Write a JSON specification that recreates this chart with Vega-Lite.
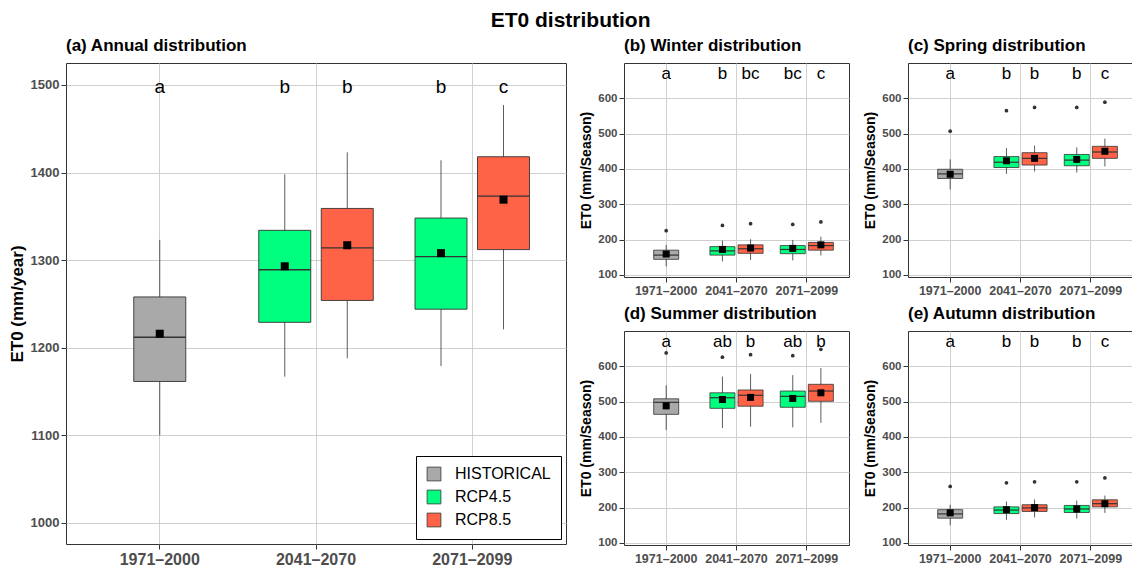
{
  "$schema": "https://vega.github.io/schema/vega-lite/v6.json",
  "background": "white",
  "padding": {"left": 7, "top": 9, "right": 0, "bottom": 0},
  "title": {"text": "ET0 distribution", "anchor": "middle", "fontSize": 21, "fontWeight": "bold", "font": "Liberation Sans", "color": "black", "offset": 6},
  "datasets": {
    "stats": [
      {"panel": "Annual", "period": "1971–2000", "scenario": "HISTORICAL", "lower": 1100, "q1": 1161.5, "median": 1212, "q3": 1258, "upper": 1323, "mean": 1216, "outlier": null, "letter": "a"},
      {"panel": "Annual", "period": "2041–2070", "scenario": "RCP4.5", "lower": 1167, "q1": 1229, "median": 1289, "q3": 1334, "upper": 1398, "mean": 1293, "outlier": null, "letter": "b"},
      {"panel": "Annual", "period": "2041–2070", "scenario": "RCP8.5", "lower": 1188, "q1": 1254, "median": 1314, "q3": 1359, "upper": 1423, "mean": 1317, "outlier": null, "letter": "b"},
      {"panel": "Annual", "period": "2071–2099", "scenario": "RCP4.5", "lower": 1179, "q1": 1244, "median": 1304, "q3": 1348, "upper": 1414, "mean": 1308, "outlier": null, "letter": "b"},
      {"panel": "Annual", "period": "2071–2099", "scenario": "RCP8.5", "lower": 1221, "q1": 1312, "median": 1373, "q3": 1418, "upper": 1477, "mean": 1369, "outlier": null, "letter": "c"},
      {"panel": "Winter", "period": "1971–2000", "scenario": "HISTORICAL", "lower": 124, "q1": 144, "median": 156, "q3": 170, "upper": 185, "mean": 159, "outlier": 225, "letter": "a"},
      {"panel": "Winter", "period": "2041–2070", "scenario": "RCP4.5", "lower": 138, "q1": 156, "median": 168, "q3": 180, "upper": 197, "mean": 172, "outlier": 240, "letter": "b"},
      {"panel": "Winter", "period": "2041–2070", "scenario": "RCP8.5", "lower": 142, "q1": 161, "median": 174, "q3": 185, "upper": 201, "mean": 176, "outlier": 245, "letter": "bc"},
      {"panel": "Winter", "period": "2071–2099", "scenario": "RCP4.5", "lower": 141, "q1": 160, "median": 172, "q3": 183, "upper": 199, "mean": 175, "outlier": 243, "letter": "bc"},
      {"panel": "Winter", "period": "2071–2099", "scenario": "RCP8.5", "lower": 155, "q1": 170, "median": 183, "q3": 192, "upper": 208, "mean": 185, "outlier": 250, "letter": "c"},
      {"panel": "Spring", "period": "1971–2000", "scenario": "HISTORICAL", "lower": 342, "q1": 373, "median": 386, "q3": 399, "upper": 427, "mean": 385, "outlier": 507, "letter": "a"},
      {"panel": "Spring", "period": "2041–2070", "scenario": "RCP4.5", "lower": 386, "q1": 404, "median": 419, "q3": 435, "upper": 459, "mean": 423, "outlier": 565, "letter": "b"},
      {"panel": "Spring", "period": "2041–2070", "scenario": "RCP8.5", "lower": 393, "q1": 411, "median": 430, "q3": 446, "upper": 466, "mean": 430, "outlier": 574, "letter": "b"},
      {"panel": "Spring", "period": "2071–2099", "scenario": "RCP4.5", "lower": 390, "q1": 409, "median": 425, "q3": 441, "upper": 461, "mean": 427, "outlier": 574, "letter": "b"},
      {"panel": "Spring", "period": "2071–2099", "scenario": "RCP8.5", "lower": 407, "q1": 430, "median": 448, "q3": 464, "upper": 486, "mean": 450, "outlier": 589, "letter": "c"},
      {"panel": "Summer", "period": "1971–2000", "scenario": "HISTORICAL", "lower": 420, "q1": 464, "median": 498, "q3": 508, "upper": 546, "mean": 488, "outlier": 638, "letter": "a"},
      {"panel": "Summer", "period": "2041–2070", "scenario": "RCP4.5", "lower": 425, "q1": 481, "median": 511, "q3": 525, "upper": 571, "mean": 506, "outlier": 626, "letter": "ab"},
      {"panel": "Summer", "period": "2041–2070", "scenario": "RCP8.5", "lower": 429, "q1": 487, "median": 518, "q3": 533, "upper": 578, "mean": 512, "outlier": 633, "letter": "b"},
      {"panel": "Summer", "period": "2071–2099", "scenario": "RCP4.5", "lower": 427, "q1": 484, "median": 515, "q3": 530, "upper": 575, "mean": 509, "outlier": 630, "letter": "ab"},
      {"panel": "Summer", "period": "2071–2099", "scenario": "RCP8.5", "lower": 440, "q1": 501, "median": 530, "q3": 549, "upper": 595, "mean": 525, "outlier": 648, "letter": "b"},
      {"panel": "Autumn", "period": "1971–2000", "scenario": "HISTORICAL", "lower": 150, "q1": 170, "median": 182, "q3": 194, "upper": 208, "mean": 185, "outlier": 260, "letter": "a"},
      {"panel": "Autumn", "period": "2041–2070", "scenario": "RCP4.5", "lower": 165, "q1": 183, "median": 193, "q3": 202, "upper": 217, "mean": 194, "outlier": 270, "letter": "b"},
      {"panel": "Autumn", "period": "2041–2070", "scenario": "RCP8.5", "lower": 172, "q1": 189, "median": 199, "q3": 208, "upper": 223, "mean": 200, "outlier": 273, "letter": "b"},
      {"panel": "Autumn", "period": "2071–2099", "scenario": "RCP4.5", "lower": 169, "q1": 186, "median": 196, "q3": 206, "upper": 220, "mean": 196, "outlier": 273, "letter": "b"},
      {"panel": "Autumn", "period": "2071–2099", "scenario": "RCP8.5", "lower": 185, "q1": 202, "median": 211, "q3": 222, "upper": 234, "mean": 211, "outlier": 284, "letter": "c"}
    ]
  },
  "spacing": 12,
  "resolve": {"scale": {"color": "independent", "xOffset": "independent"}, "legend": {"color": "independent"}},
  "hconcat": [
    {
      "width": 500,
      "height": 481,
      "title": {"text": "(a) Annual distribution", "anchor": "start", "frame": "group", "fontSize": 17, "fontWeight": "bold", "font": "Liberation Sans", "color": "black", "offset": 8},
      "data": {"name": "stats"},
      "transform": [{"filter": "datum.panel == 'Annual'"}],
      "encoding": {
        "x": {"field": "period", "type": "nominal", "title": null,
              "scale": {"domain": ["1971–2000", "2041–2070", "2071–2099"], "paddingInner": 0, "paddingOuter": 0.1},
              "axis": {"labelAngle": 0, "labelFontSize": 16, "labelFontWeight": "bold", "labelColor": "#4D4D4D", "labelFont": "Liberation Sans", "tickColor": "#333333", "tickSize": 5, "labelPadding": 2, "domain": false, "grid": true, "gridColor": "#cfcfcf", "gridWidth": 1}},
        "xOffset": {"field": "scenario", "type": "nominal", "scale": {"domain": ["RCP4.5", "HISTORICAL", "RCP8.5"], "paddingInner": 0, "paddingOuter": 1.2}}
      },
      "layer": [
        {"mark": {"type": "rule", "color": "#333333", "strokeWidth": 0.8},
         "encoding": {
           "y": {"field": "lower", "type": "quantitative", "title": "ET0 (mm/year)",
                 "scale": {"domain": [976, 1525], "nice": false, "zero": false},
                 "axis": {"values": [1000, 1100, 1200, 1300, 1400, 1500], "format": "d", "titleFontSize": 17, "titleFontWeight": "bold", "titleColor": "black", "titleFont": "Liberation Sans", "titlePadding": 4, "labelFontSize": 13, "labelFontWeight": "bold", "labelColor": "#4D4D4D", "labelFont": "Liberation Sans", "tickColor": "#333333", "tickSize": 5, "labelPadding": 2, "domain": false, "grid": true, "gridColor": "#cfcfcf", "gridWidth": 1}},
           "y2": {"field": "upper"}}},
        {"mark": {"type": "bar", "width": 52, "stroke": "#333333", "strokeWidth": 0.9},
         "encoding": {
           "y": {"field": "q1", "type": "quantitative", "title": "ET0 (mm/year)"},
           "y2": {"field": "q3"},
           "color": {"field": "scenario", "type": "nominal",
                     "scale": {"domain": ["HISTORICAL", "RCP4.5", "RCP8.5"], "range": ["#A9A9A9", "#00FF7F", "#FF6347"]},
                     "legend": {"title": null, "orient": "bottom-right", "offset": 5, "strokeColor": "black", "fillColor": "white", "padding": 10, "labelFontSize": 16, "labelFont": "Liberation Sans", "labelColor": "black", "symbolType": "square", "symbolSize": 190, "symbolStrokeColor": "#333333", "symbolStrokeWidth": 0.8, "rowPadding": 5, "labelOffset": 13}}}},
        {"mark": {"type": "tick", "size": 52, "thickness": 1.4, "color": "#333333", "opacity": 1},
         "encoding": {"y": {"field": "median", "type": "quantitative", "title": "ET0 (mm/year)"}}},
        {"mark": {"type": "point", "shape": "square", "filled": true, "color": "black", "size": 64, "opacity": 1},
         "encoding": {"y": {"field": "mean", "type": "quantitative", "title": "ET0 (mm/year)"}}},
        {"mark": {"type": "text", "fontSize": 19, "font": "Liberation Sans", "baseline": "middle", "color": "black"},
         "encoding": {"y": {"datum": 1498, "title": "ET0 (mm/year)"}, "text": {"field": "letter"}}}
      ]
    },
    {
      "spacing": 7,
      "resolve": {"scale": {"xOffset": "independent"}},
      "vconcat": [
        {
          "spacing": 13,
          "resolve": {"scale": {"xOffset": "independent"}},
          "hconcat": [
            {
              "width": 225, "height": 214,
              "title": {"text": "(b) Winter distribution", "anchor": "start", "frame": "group", "fontSize": 17, "fontWeight": "bold", "font": "Liberation Sans", "color": "black", "offset": 8},
              "data": {"name": "stats"},
              "transform": [{"filter": "datum.panel == 'Winter'"}],
              "encoding": {
                "x": {"field": "period", "type": "nominal", "title": null,
                      "scale": {"domain": ["1971–2000", "2041–2070", "2071–2099"], "paddingInner": 0, "paddingOuter": 0.1},
                      "axis": {"labelAngle": 0, "labelFontSize": 12.5, "labelFontWeight": "bold", "labelColor": "#4D4D4D", "labelFont": "Liberation Sans", "tickColor": "#333333", "tickSize": 5, "labelPadding": 2, "domain": false, "grid": true, "gridColor": "#cfcfcf", "gridWidth": 1}},
                "xOffset": {"field": "scenario", "type": "nominal", "scale": {"domain": ["RCP4.5", "HISTORICAL", "RCP8.5"], "paddingInner": 0, "paddingOuter": 1.11}}
              },
              "layer": [
                {"mark": {"type": "rule", "color": "#333333", "strokeWidth": 0.8},
                 "encoding": {
                   "y": {"field": "lower", "type": "quantitative", "title": "ET0 (mm/Season)",
                         "scale": {"domain": [94, 700], "nice": false, "zero": false},
                         "axis": {"values": [100, 200, 300, 400, 500, 600], "format": "d", "titleFontSize": 14, "titleFontWeight": "bold", "titleColor": "black", "titleFont": "Liberation Sans", "titlePadding": 4, "labelFontSize": 11.5, "labelFontWeight": "bold", "labelColor": "#4D4D4D", "labelFont": "Liberation Sans", "tickColor": "#333333", "tickSize": 5, "labelPadding": 2, "domain": false, "grid": true, "gridColor": "#cfcfcf", "gridWidth": 1}},
                   "y2": {"field": "upper"}}},
                {"mark": {"type": "bar", "width": 25, "stroke": "#333333", "strokeWidth": 0.8},
                 "encoding": {
                   "y": {"field": "q1", "type": "quantitative", "title": "ET0 (mm/Season)"},
                   "y2": {"field": "q3"},
                   "color": {"field": "scenario", "type": "nominal", "scale": {"domain": ["HISTORICAL", "RCP4.5", "RCP8.5"], "range": ["#A9A9A9", "#00FF7F", "#FF6347"]}, "legend": null}}},
                {"mark": {"type": "tick", "size": 25, "thickness": 1.2, "color": "#333333", "opacity": 1},
                 "encoding": {"y": {"field": "median", "type": "quantitative", "title": "ET0 (mm/Season)"}}},
                {"mark": {"type": "point", "shape": "square", "filled": true, "color": "black", "size": 49, "opacity": 1},
                 "encoding": {"y": {"field": "mean", "type": "quantitative", "title": "ET0 (mm/Season)"}}},
                {"mark": {"type": "point", "shape": "circle", "filled": true, "color": "#333333", "size": 14, "opacity": 1},
                 "encoding": {"y": {"field": "outlier", "type": "quantitative", "title": "ET0 (mm/Season)"}}},
                {"mark": {"type": "text", "fontSize": 17, "font": "Liberation Sans", "baseline": "middle", "color": "black"},
                 "encoding": {"y": {"datum": 668, "title": "ET0 (mm/Season)"}, "text": {"field": "letter"}}}
              ]
            },
            {
              "width": 225, "height": 214,
              "title": {"text": "(c) Spring distribution", "anchor": "start", "frame": "group", "fontSize": 17, "fontWeight": "bold", "font": "Liberation Sans", "color": "black", "offset": 8},
              "data": {"name": "stats"},
              "transform": [{"filter": "datum.panel == 'Spring'"}],
              "encoding": {
                "x": {"field": "period", "type": "nominal", "title": null,
                      "scale": {"domain": ["1971–2000", "2041–2070", "2071–2099"], "paddingInner": 0, "paddingOuter": 0.1},
                      "axis": {"labelAngle": 0, "labelFontSize": 12.5, "labelFontWeight": "bold", "labelColor": "#4D4D4D", "labelFont": "Liberation Sans", "tickColor": "#333333", "tickSize": 5, "labelPadding": 2, "domain": false, "grid": true, "gridColor": "#cfcfcf", "gridWidth": 1}},
                "xOffset": {"field": "scenario", "type": "nominal", "scale": {"domain": ["RCP4.5", "HISTORICAL", "RCP8.5"], "paddingInner": 0, "paddingOuter": 1.11}}
              },
              "layer": [
                {"mark": {"type": "rule", "color": "#333333", "strokeWidth": 0.8},
                 "encoding": {
                   "y": {"field": "lower", "type": "quantitative", "title": "ET0 (mm/Season)",
                         "scale": {"domain": [94, 700], "nice": false, "zero": false},
                         "axis": {"values": [100, 200, 300, 400, 500, 600], "format": "d", "titleFontSize": 14, "titleFontWeight": "bold", "titleColor": "black", "titleFont": "Liberation Sans", "titlePadding": 4, "labelFontSize": 11.5, "labelFontWeight": "bold", "labelColor": "#4D4D4D", "labelFont": "Liberation Sans", "tickColor": "#333333", "tickSize": 5, "labelPadding": 2, "domain": false, "grid": true, "gridColor": "#cfcfcf", "gridWidth": 1}},
                   "y2": {"field": "upper"}}},
                {"mark": {"type": "bar", "width": 25, "stroke": "#333333", "strokeWidth": 0.8},
                 "encoding": {
                   "y": {"field": "q1", "type": "quantitative", "title": "ET0 (mm/Season)"},
                   "y2": {"field": "q3"},
                   "color": {"field": "scenario", "type": "nominal", "scale": {"domain": ["HISTORICAL", "RCP4.5", "RCP8.5"], "range": ["#A9A9A9", "#00FF7F", "#FF6347"]}, "legend": null}}},
                {"mark": {"type": "tick", "size": 25, "thickness": 1.2, "color": "#333333", "opacity": 1},
                 "encoding": {"y": {"field": "median", "type": "quantitative", "title": "ET0 (mm/Season)"}}},
                {"mark": {"type": "point", "shape": "square", "filled": true, "color": "black", "size": 49, "opacity": 1},
                 "encoding": {"y": {"field": "mean", "type": "quantitative", "title": "ET0 (mm/Season)"}}},
                {"mark": {"type": "point", "shape": "circle", "filled": true, "color": "#333333", "size": 14, "opacity": 1},
                 "encoding": {"y": {"field": "outlier", "type": "quantitative", "title": "ET0 (mm/Season)"}}},
                {"mark": {"type": "text", "fontSize": 17, "font": "Liberation Sans", "baseline": "middle", "color": "black"},
                 "encoding": {"y": {"datum": 668, "title": "ET0 (mm/Season)"}, "text": {"field": "letter"}}}
              ]
            }
          ]
        },
        {
          "spacing": 13,
          "resolve": {"scale": {"xOffset": "independent"}},
          "hconcat": [
            {
              "width": 225, "height": 214,
              "title": {"text": "(d) Summer distribution", "anchor": "start", "frame": "group", "fontSize": 17, "fontWeight": "bold", "font": "Liberation Sans", "color": "black", "offset": 8},
              "data": {"name": "stats"},
              "transform": [{"filter": "datum.panel == 'Summer'"}],
              "encoding": {
                "x": {"field": "period", "type": "nominal", "title": null,
                      "scale": {"domain": ["1971–2000", "2041–2070", "2071–2099"], "paddingInner": 0, "paddingOuter": 0.1},
                      "axis": {"labelAngle": 0, "labelFontSize": 12.5, "labelFontWeight": "bold", "labelColor": "#4D4D4D", "labelFont": "Liberation Sans", "tickColor": "#333333", "tickSize": 5, "labelPadding": 2, "domain": false, "grid": true, "gridColor": "#cfcfcf", "gridWidth": 1}},
                "xOffset": {"field": "scenario", "type": "nominal", "scale": {"domain": ["RCP4.5", "HISTORICAL", "RCP8.5"], "paddingInner": 0, "paddingOuter": 1.11}}
              },
              "layer": [
                {"mark": {"type": "rule", "color": "#333333", "strokeWidth": 0.8},
                 "encoding": {
                   "y": {"field": "lower", "type": "quantitative", "title": "ET0 (mm/Season)",
                         "scale": {"domain": [94, 700], "nice": false, "zero": false},
                         "axis": {"values": [100, 200, 300, 400, 500, 600], "format": "d", "titleFontSize": 14, "titleFontWeight": "bold", "titleColor": "black", "titleFont": "Liberation Sans", "titlePadding": 4, "labelFontSize": 11.5, "labelFontWeight": "bold", "labelColor": "#4D4D4D", "labelFont": "Liberation Sans", "tickColor": "#333333", "tickSize": 5, "labelPadding": 2, "domain": false, "grid": true, "gridColor": "#cfcfcf", "gridWidth": 1}},
                   "y2": {"field": "upper"}}},
                {"mark": {"type": "bar", "width": 25, "stroke": "#333333", "strokeWidth": 0.8},
                 "encoding": {
                   "y": {"field": "q1", "type": "quantitative", "title": "ET0 (mm/Season)"},
                   "y2": {"field": "q3"},
                   "color": {"field": "scenario", "type": "nominal", "scale": {"domain": ["HISTORICAL", "RCP4.5", "RCP8.5"], "range": ["#A9A9A9", "#00FF7F", "#FF6347"]}, "legend": null}}},
                {"mark": {"type": "tick", "size": 25, "thickness": 1.2, "color": "#333333", "opacity": 1},
                 "encoding": {"y": {"field": "median", "type": "quantitative", "title": "ET0 (mm/Season)"}}},
                {"mark": {"type": "point", "shape": "square", "filled": true, "color": "black", "size": 49, "opacity": 1},
                 "encoding": {"y": {"field": "mean", "type": "quantitative", "title": "ET0 (mm/Season)"}}},
                {"mark": {"type": "point", "shape": "circle", "filled": true, "color": "#333333", "size": 14, "opacity": 1},
                 "encoding": {"y": {"field": "outlier", "type": "quantitative", "title": "ET0 (mm/Season)"}}},
                {"mark": {"type": "text", "fontSize": 17, "font": "Liberation Sans", "baseline": "middle", "color": "black"},
                 "encoding": {"y": {"datum": 668, "title": "ET0 (mm/Season)"}, "text": {"field": "letter"}}}
              ]
            },
            {
              "width": 225, "height": 214,
              "title": {"text": "(e) Autumn distribution", "anchor": "start", "frame": "group", "fontSize": 17, "fontWeight": "bold", "font": "Liberation Sans", "color": "black", "offset": 8},
              "data": {"name": "stats"},
              "transform": [{"filter": "datum.panel == 'Autumn'"}],
              "encoding": {
                "x": {"field": "period", "type": "nominal", "title": null,
                      "scale": {"domain": ["1971–2000", "2041–2070", "2071–2099"], "paddingInner": 0, "paddingOuter": 0.1},
                      "axis": {"labelAngle": 0, "labelFontSize": 12.5, "labelFontWeight": "bold", "labelColor": "#4D4D4D", "labelFont": "Liberation Sans", "tickColor": "#333333", "tickSize": 5, "labelPadding": 2, "domain": false, "grid": true, "gridColor": "#cfcfcf", "gridWidth": 1}},
                "xOffset": {"field": "scenario", "type": "nominal", "scale": {"domain": ["RCP4.5", "HISTORICAL", "RCP8.5"], "paddingInner": 0, "paddingOuter": 1.11}}
              },
              "layer": [
                {"mark": {"type": "rule", "color": "#333333", "strokeWidth": 0.8},
                 "encoding": {
                   "y": {"field": "lower", "type": "quantitative", "title": "ET0 (mm/Season)",
                         "scale": {"domain": [94, 700], "nice": false, "zero": false},
                         "axis": {"values": [100, 200, 300, 400, 500, 600], "format": "d", "titleFontSize": 14, "titleFontWeight": "bold", "titleColor": "black", "titleFont": "Liberation Sans", "titlePadding": 4, "labelFontSize": 11.5, "labelFontWeight": "bold", "labelColor": "#4D4D4D", "labelFont": "Liberation Sans", "tickColor": "#333333", "tickSize": 5, "labelPadding": 2, "domain": false, "grid": true, "gridColor": "#cfcfcf", "gridWidth": 1}},
                   "y2": {"field": "upper"}}},
                {"mark": {"type": "bar", "width": 25, "stroke": "#333333", "strokeWidth": 0.8},
                 "encoding": {
                   "y": {"field": "q1", "type": "quantitative", "title": "ET0 (mm/Season)"},
                   "y2": {"field": "q3"},
                   "color": {"field": "scenario", "type": "nominal", "scale": {"domain": ["HISTORICAL", "RCP4.5", "RCP8.5"], "range": ["#A9A9A9", "#00FF7F", "#FF6347"]}, "legend": null}}},
                {"mark": {"type": "tick", "size": 25, "thickness": 1.2, "color": "#333333", "opacity": 1},
                 "encoding": {"y": {"field": "median", "type": "quantitative", "title": "ET0 (mm/Season)"}}},
                {"mark": {"type": "point", "shape": "square", "filled": true, "color": "black", "size": 49, "opacity": 1},
                 "encoding": {"y": {"field": "mean", "type": "quantitative", "title": "ET0 (mm/Season)"}}},
                {"mark": {"type": "point", "shape": "circle", "filled": true, "color": "#333333", "size": 14, "opacity": 1},
                 "encoding": {"y": {"field": "outlier", "type": "quantitative", "title": "ET0 (mm/Season)"}}},
                {"mark": {"type": "text", "fontSize": 17, "font": "Liberation Sans", "baseline": "middle", "color": "black"},
                 "encoding": {"y": {"datum": 668, "title": "ET0 (mm/Season)"}, "text": {"field": "letter"}}}
              ]
            }
          ]
        }
      ]
    }
  ],
  "config": {
    "font": "Liberation Sans",
    "view": {"stroke": "#333333", "strokeWidth": 1, "fill": "white"}
  }
}
